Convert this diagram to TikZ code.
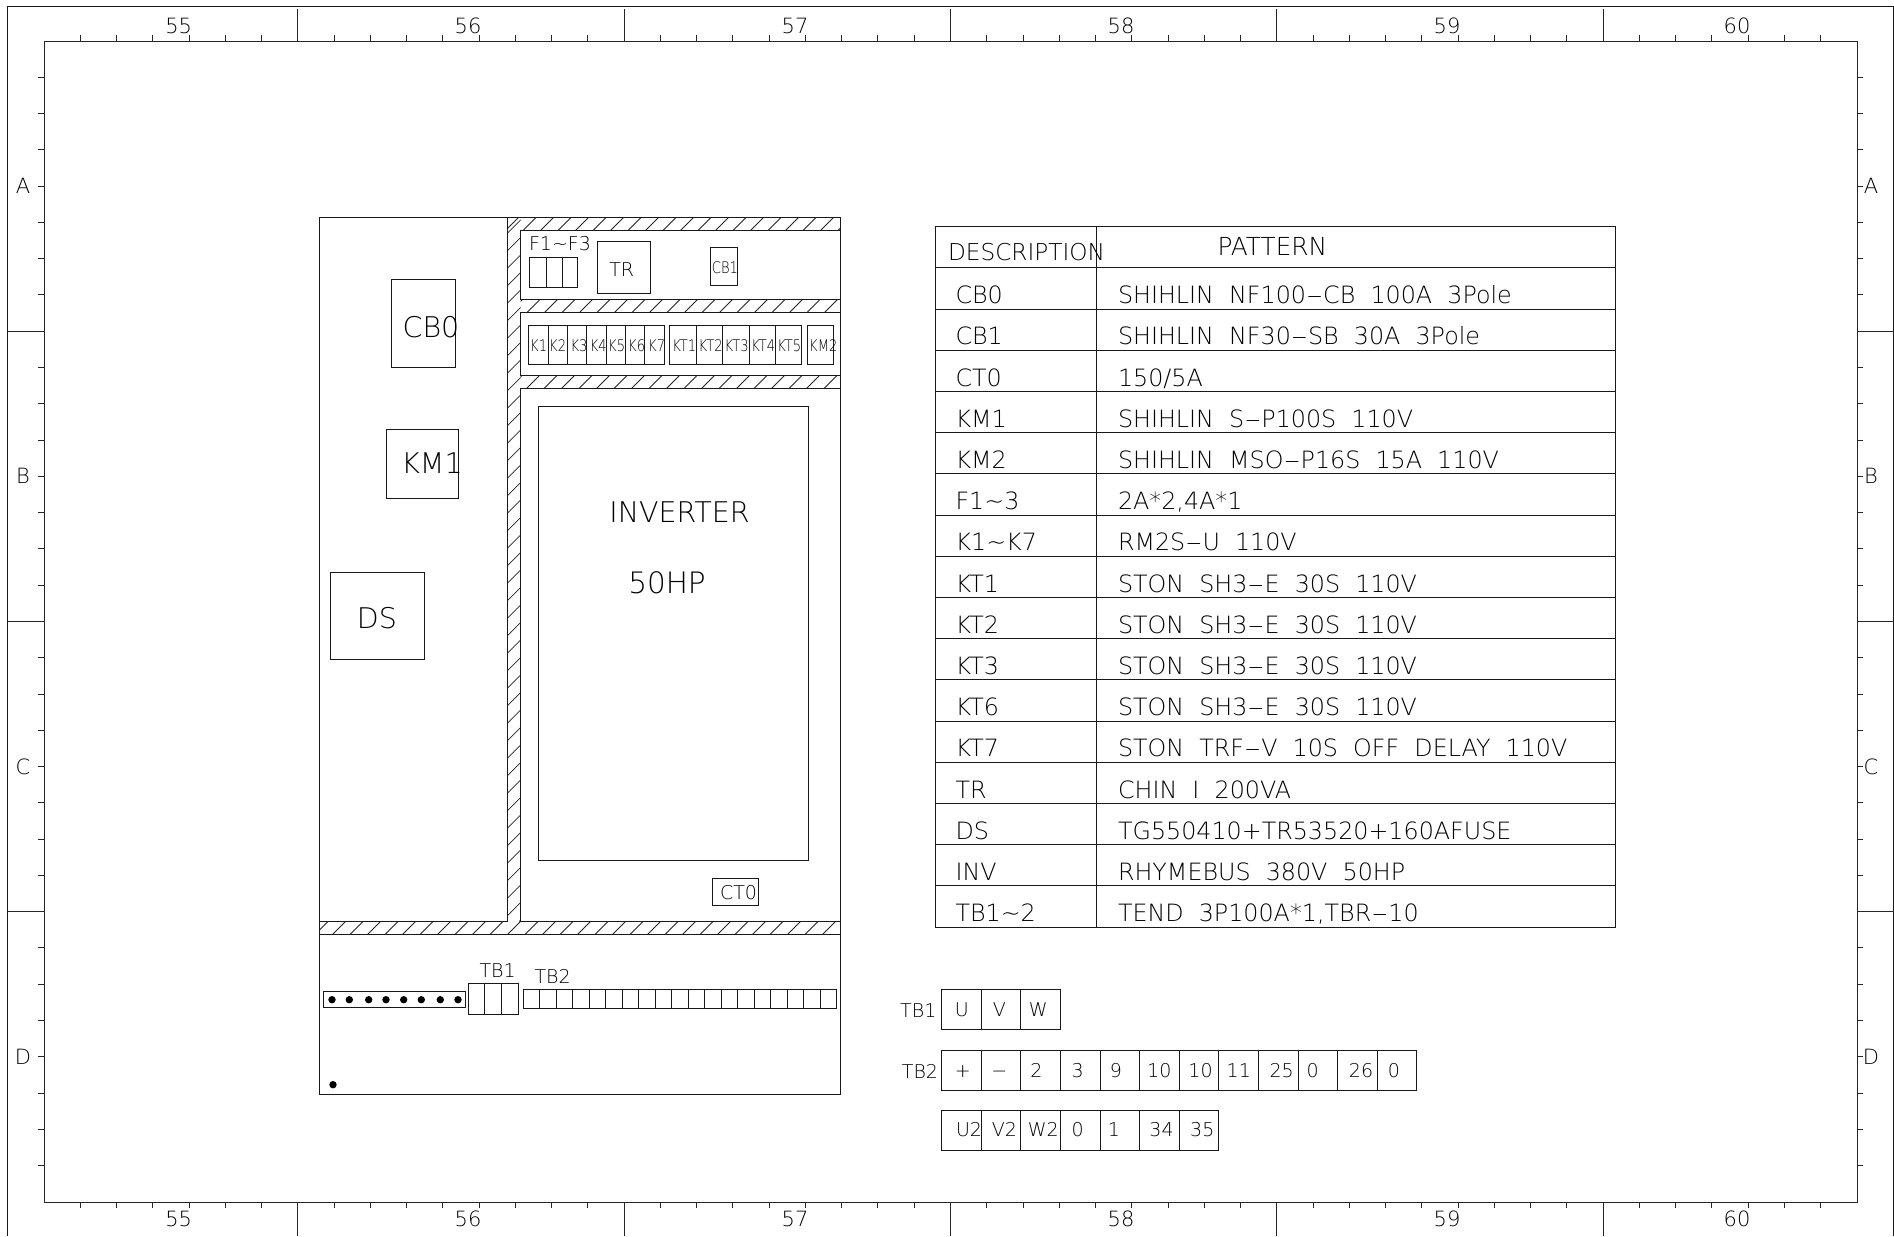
\documentclass[tikz,border=0pt]{standalone}
\usepackage{fontspec}
\usepackage{graphicx}
\setmainfont{DejaVu Sans ExtraLight}
\newcommand{\nr}[1]{\scalebox{.82}[1]{#1}}
\newcommand{\hy}{\scalebox{2}[1]{-}}
\newcommand{\hatchband}[5]{%
  \begin{scope}
    \clip (#1,#2) rectangle (#3,#4);
    \foreach \k in {-40,...,60}{
      \pgfmathsetmacro\cc{#5+\k*17.5}
      \draw[hatchline] ({\cc-#4},#4) -- ({\cc-#2},#2);
    }
  \end{scope}}
\tikzset{
  ln/.style={line width=1.05pt,draw=black!90},
  thinln/.style={line width=1pt,draw=black!85},
  hatchline/.style={line width=.85pt,draw=black!85},
  lbl/.style={inner sep=0pt,outer sep=0pt,text depth=0pt,text=black},
  capK/.style={lbl,font=\fontsize{16}{17}\selectfont,text height=11.7pt},
  capS/.style={lbl,font=\fontsize{19}{20}\selectfont,text height=13.8pt},
  capF/.style={lbl,font=\fontsize{21}{23}\selectfont,text height=15.3pt},
  capT/.style={lbl,font=\fontsize{23.8}{25}\selectfont,text height=17.3pt},
  capH/.style={lbl,font=\fontsize{24.8}{25}\selectfont,text height=17.3pt},
  capL/.style={lbl,font=\fontsize{28.5}{30}\selectfont,text height=20.6pt},
  dot/.style={fill=black,draw=none}
}
\begin{document}
\begin{tikzpicture}[x=1pt,y=-1pt]
\useasboundingbox (0,0) rectangle (1894,1236);
\fill[white] (0,0) rectangle (1894,1236);
% ---- sheet frame
\draw[ln] (7.5,1236) -- (7.5,6.5) -- (1893.5,6.5) -- (1893.5,1236);
\draw[line width=1.2pt,draw=black!85] (44.5,41.5) rectangle (1857.5,1202.5);
\foreach \k in {1,...,49}{
  \draw[thinln] ({floor(44+\k*36.26)+0.5},41) -- ({floor(44+\k*36.26)+0.5},35);
  \draw[thinln] ({floor(44+\k*36.26)+0.5},1202) -- ({floor(44+\k*36.26)+0.5},1208);
}
\foreach \k in {7,16,25,34,43}{
  \draw[thinln] ({floor(44+\k*36.26)+0.5},41) -- ({floor(44+\k*36.26)+0.5},9);
  \draw[thinln] ({floor(44+\k*36.26)+0.5},1202) -- ({floor(44+\k*36.26)+0.5},1236);
}
\foreach \k in {1,...,31}{
  \draw[thinln] (44,{floor(41+\k*36.28)+0.5}) -- (38,{floor(41+\k*36.28)+0.5});
  \draw[thinln] (1857,{floor(41+\k*36.28)+0.5}) -- (1863,{floor(41+\k*36.28)+0.5});
}
\foreach \k in {8,16,24}{
  \draw[thinln] (44,{floor(41+\k*36.28)+0.5}) -- (7.5,{floor(41+\k*36.28)+0.5});
  \draw[thinln] (1857,{floor(41+\k*36.28)+0.5}) -- (1893.5,{floor(41+\k*36.28)+0.5});
}
\foreach \t/\x in {55/178.7,56/468,57/795,58/1121,59/1447,60/1737}{
  \node[capF] (top\t) at (\x,26) {\t};
  \node[capF] (bot\t) at (\x,1219) {\t};
}
\foreach \t/\y in {A/186,B/476,C/767,D/1057}{
  \node[capF] (lft\t) at (23,\y) {\t};
  \node[capF] (rgt\t) at (1871,\y) {\t};
}
% ---- panel
\hatchband{507.5}{217.5}{840.5}{230.5}{753.4}
\hatchband{507.5}{217.5}{520.5}{921.5}{740.6}
\hatchband{520.5}{299.5}{840.5}{312.5}{839.4}
\hatchband{520.5}{375.5}{840.5}{388.5}{915}
\hatchband{319.5}{921.5}{840.5}{934.5}{1267}
\draw[ln] (319.5,217.5) rectangle (840.5,1094.5);
\draw[ln] (319.5,217.5) rectangle (507.5,921.5);
\draw[ln] (520.5,230.5) rectangle (840.5,299.5);
\draw[ln] (520.5,312.5) rectangle (840.5,375.5);
\draw[ln] (520.5,388.5) rectangle (840.5,921.5);
\draw[ln] (319.5,934.5) -- (840.5,934.5);
% components
\draw[ln] (391.5,279.5) rectangle (455.5,367.5);
\node[capL] (cb0) at (431,327) {CB0};
\draw[ln] (386.5,429.5) rectangle (458.5,498.5);
\node[capL] (km1) at (432,463) {KM1};
\draw[ln] (330.5,572.5) rectangle (424.5,659.5);
\node[capL] (ds) at (377,618.5) {DS};
\node[capS] (f13) at (560,244) {F1\textasciitilde F3};
\draw[ln] (529.5,257.5) rectangle (577.5,287.5);
\draw[ln] (546.5,257.5) -- (546.5,287.5) (562.5,257.5) -- (562.5,287.5);
\draw[ln] (597.5,241.5) rectangle (650.5,293.5);
\node[capS] (tr) at (621.7,270) {TR};
\draw[ln] (710.5,247.5) rectangle (737.5,285.5);
\node[capK] (cb1) at (725,267.3) {\nr{CB1}};
% relay row
\draw[ln] (528.5,325.5) rectangle (664.5,364.5);
\foreach \x in {548.5,567.5,586.5,606.5,625.5,644.5}{\draw[ln] (\x,325.5) -- (\x,364.5);}
\foreach \t/\x in {K1/538.7,K2/557.7,K3/579,K4/598.3,K5/616.7,K6/636.7,K7/656.7}{
  \node[capK] (r\t) at (\x,345.7) {\nr{\t}};
}
\draw[ln] (669.5,325.5) rectangle (801.5,364.5);
\foreach \x in {696.5,722.5,749.5,775.5}{\draw[ln] (\x,325.5) -- (\x,364.5);}
\foreach \t/\x in {KT1/684.3,KT2/710.7,KT3/736.7,KT4/763.3,KT5/789.3}{
  \node[capK] (r\t) at (\x,345.7) {\nr{\t}};
}
\draw[ln] (807.5,325.5) rectangle (833.5,364.5);
\node[capK] (rKM2) at (823.3,345.7) {\nr{KM2}};
% inverter
\draw[ln] (538.5,406.5) rectangle (808.5,860.5);
\node[capL] (inv) at (679.5,512) {INVERTER};
\node[capL,font=\fontsize{29.5}{30}\selectfont] (hp) at (667,583.5) {50HP};
\draw[ln] (712.5,878.5) rectangle (758.5,905.5);
\node[capS] (ct0) at (738.5,892.7) {CT0};
% terminal strips in the panel
\draw[ln] (323.5,991.5) rectangle (465.5,1007.5);
\foreach \x in {332,349.3,368.7,386,403.7,421.3,440.3,458}{\fill[dot] (\x,999.7) circle (3.7);}
\fill[dot] (333,1084.7) circle (3.7);
\draw[ln] (468.5,983.5) rectangle (518.5,1014.5);
\draw[ln] (484.5,983.5) -- (484.5,1014.5) (501.5,983.5) -- (501.5,1014.5);
\node[capS] (ptb1) at (497.7,971) {TB1};
\node[capS] (ptb2) at (552.7,976.7) {TB2};
\draw[ln] (523.5,989.5) rectangle (836.5,1008.5);
\foreach \k in {1,...,18}{\draw[ln] ({floor(523+\k*16.5)+0.5},989.5) -- ({floor(523+\k*16.5)+0.5},1008.5);}
% ---- pattern table
\draw[ln] (935.5,226.5) rectangle (1615.5,927.5);
\draw[ln] (1096.5,226.5) -- (1096.5,927.5);
\foreach \i in {1,...,16}{\draw[ln] (935.5,{floor(226.7+\i*41.2)+0.5}) -- (1615.5,{floor(226.7+\i*41.2)+0.5});}
\node[capT,anchor=west,font=\fontsize{23.2}{25}\selectfont] (hd) at (948,251.7) {DESCRIPTION};
\node[capH,anchor=west] (hp2) at (1217.5,247.3) {PATTERN};
\foreach \a/\b [count=\i] in {
  {CB0}/{SHIHLIN~~NF100\hy CB~~100A~~3Pole},
  {CB1}/{SHIHLIN~~NF30\hy SB~~30A~~3Pole},
  {CT0}/{150/5A},
  {KM1}/{SHIHLIN~~S\hy P100S~~110V},
  {KM2}/{SHIHLIN~~MSO\hy P16S~~15A~~110V},
  {F1\textasciitilde 3}/{2A*2,4A*1},
  {K1\textasciitilde K7}/{RM2S\hy U~~110V},
  {KT1}/{STON~~SH3\hy E~~30S~~110V},
  {KT2}/{STON~~SH3\hy E~~30S~~110V},
  {KT3}/{STON~~SH3\hy E~~30S~~110V},
  {KT6}/{STON~~SH3\hy E~~30S~~110V},
  {KT7}/{STON~~TRF\hy V~~10S~~OFF~~DELAY~~110V},
  {TR}/{CHIN~~I~~200VA},
  {DS}/{TG550410+TR53520+160AFUSE},
  {INV}/{RHYMEBUS~~380V~~50HP},
  {TB1\textasciitilde 2}/{TEND~~3P100A*1,TBR\hy 10}}{
  \node[capT,anchor=west] (L\i) at (955.5,{226.7+(\i+1)*41.2-14}) {\a};
  \node[capT,anchor=west] (R\i) at (1118,{226.7+(\i+1)*41.2-14}) {\b};
}
% ---- terminal tables
\node[capS] (tt1) at (918.3,1011) {TB1};
\node[capS] (tt2) at (920,1071.5) {TB2};
\draw[ln] (941.5,989.5) rectangle (1060.5,1029.5);
\foreach \k in {1,2}{\draw[ln] ({floor(941.7+\k*39.6)+0.5},989.5) -- ({floor(941.7+\k*39.6)+0.5},1029.5);}
\draw[ln] (941.5,1050.5) rectangle (1416.5,1090.5);
\foreach \k in {1,...,11}{\draw[ln] ({floor(941.7+\k*39.6)+0.5},1050.5) -- ({floor(941.7+\k*39.6)+0.5},1090.5);}
\draw[ln] (941.5,1110.5) rectangle (1218.5,1150.5);
\foreach \k in {1,...,6}{\draw[ln] ({floor(941.7+\k*39.6)+0.5},1110.5) -- ({floor(941.7+\k*39.6)+0.5},1150.5);}
\foreach \t/\x [count=\i] in {U/961.7,V/999.3,W/1038.3}{\node[capS] (ta\i) at (\x,1009.5) {\t};}
\foreach \t/\x [count=\i] in {+/962.7,−/999.3,2/1036.5,3/1077.7,9/1116,10/1159.3,10/1200.5,11/1238.8,25/1281.7,0/1312.7,26/1361,0/1394}{\node[capS] (tb\i) at (\x,1070.7) {\t};}
\foreach \t/\x [count=\i] in {U2/969,V2/1004.3,W2/1043.3,0/1077.7,1/1114,34/1161.5,35/1202.3}{\node[capS] (tc\i) at (\x,1130) {\t};}
\end{tikzpicture}
\end{document}
